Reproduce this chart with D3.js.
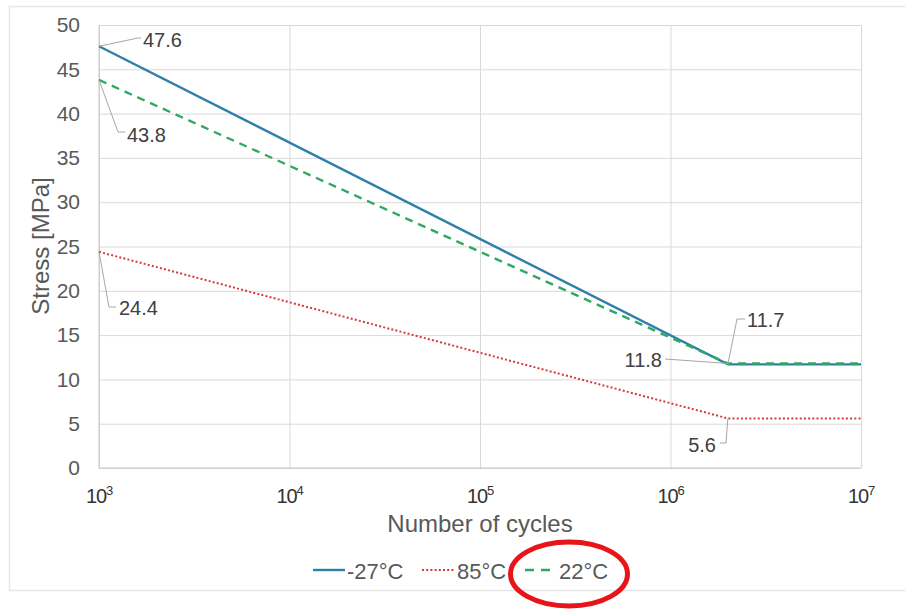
<!DOCTYPE html>
<html>
<head>
<meta charset="utf-8">
<script src="https://cdn.jsdelivr.net/npm/d3@7"></script>
<style>
  html, body { margin: 0; padding: 0; background: #fff; }
  svg { display: block; font-family: "Liberation Sans", Arial, sans-serif; }
</style>
</head>
<body>
<svg id="chart" width="905" height="611"></svg>
<script>
// S-N curves: stress amplitude vs. number of cycles, per test temperature
const cycles = [1e3, 2e6, 1e7];
const stressCold = [47.6, 11.7, 11.7];   // -27°C
const stressHot = [24.4, 5.6, 5.6];      // 85°C
const stressRoom = [43.8, 11.8, 11.8];   // 22°C
const seriesNames = ["-27°C", "85°C", "22°C"];
const yTicks = [0, 5, 10, 15, 20, 25, 30, 35, 40, 45, 50];
const xTickExponents = [3, 4, 5, 6, 7];

const series = [
  { name: seriesNames[0], values: stressCold, color: "#2f7fa9", dash: null, legendDash: null, width: 2.4 },
  { name: seriesNames[1], values: stressHot, color: "#d63a3a", dash: "2,2.2", legendDash: "2,2.2", width: 2 },
  { name: seriesNames[2], values: stressRoom, color: "#2ea862", dash: "8,6", legendDash: "9,7", width: 2.4 }
];

const svg = d3.select("#chart");
const plot = { left: 99, right: 861, top: 25, bottom: 468 };

const x = d3.scaleLog().domain([1e3, 1e7]).range([plot.left, plot.right]);
const y = d3.scaleLinear().domain([0, 50]).range([plot.bottom, plot.top]);

// outer frame
svg.append("rect")
  .attr("x", 9.5).attr("y", 6.5).attr("width", 905).attr("height", 584)
  .attr("fill", "none").attr("stroke", "#e6e6e6").attr("stroke-width", 1.5);

// horizontal gridlines + y tick labels
const yAxis = d3.axisLeft(y).tickValues(yTicks).tickSize(-(plot.right - plot.left)).tickPadding(19);
const gy = svg.append("g").attr("transform", `translate(${plot.left},0)`).call(yAxis);
gy.select(".domain").remove();
gy.selectAll(".tick line").attr("stroke", "#d9d9d9").attr("stroke-width", 1);
gy.selectAll(".tick text").attr("fill", "#595959").attr("font-size", 21)
  .attr("font-family", "Liberation Sans, Arial, sans-serif");

// vertical gridlines at each decade
const xAxis = d3.axisBottom(x).tickValues(xTickExponents.map(e => Math.pow(10, e)))
  .tickSize(-(plot.bottom - plot.top)).tickFormat("");
const gx = svg.append("g").attr("transform", `translate(0,${plot.bottom})`).call(xAxis);
gx.select(".domain").remove();
gx.selectAll(".tick line").attr("stroke", "#d9d9d9").attr("stroke-width", 1);

// axis lines
svg.append("line").attr("x1", plot.left).attr("x2", plot.left)
  .attr("y1", plot.top).attr("y2", plot.bottom).attr("stroke", "#c8c8c8");
svg.append("line").attr("x1", plot.left).attr("x2", plot.right)
  .attr("y1", plot.bottom).attr("y2", plot.bottom).attr("stroke", "#c8c8c8");

// x tick labels as powers of ten
xTickExponents.forEach(e => {
  const t = svg.append("text")
    .attr("x", x(Math.pow(10, e))).attr("y", 503)
    .attr("text-anchor", "middle").attr("fill", "#333").attr("font-size", 20)
    .attr("letter-spacing", -1.2);
  t.append("tspan").text("10");
  t.append("tspan").attr("dy", -8).attr("font-size", 13).text(e);
});

// axis titles
svg.append("text").attr("x", 480).attr("y", 532).attr("text-anchor", "middle")
  .attr("fill", "#595959").attr("font-size", 24).text("Number of cycles");
svg.append("text").attr("transform", "translate(49,246) rotate(-90)")
  .attr("text-anchor", "middle").attr("fill", "#595959").attr("font-size", 24).text("Stress [MPa]");

// curves (hot first, then cold, then room-temperature dashed on top)
const line = d3.line().x((d, i) => x(cycles[i])).y(d => y(d));
[series[1], series[0], series[2]].forEach(s => {
  svg.append("path").datum(s.values)
    .attr("d", line)
    .attr("fill", "none")
    .attr("stroke", s.color)
    .attr("stroke-width", s.width)
    .attr("stroke-dasharray", s.dash);
});

// data labels with leader lines
function dataLabel(px, py, pts, tx, ty, text, anchor) {
  svg.append("polyline")
    .attr("points", [[px, py]].concat(pts).map(p => p.join(",")).join(" "))
    .attr("fill", "none").attr("stroke", "#a6a6a6").attr("stroke-width", 1);
  svg.append("text").attr("x", tx).attr("y", ty).attr("text-anchor", anchor || "start")
    .attr("dominant-baseline", "central").attr("fill", "#404040").attr("font-size", 20).text(text);
}
const x0 = x(cycles[0]), xk = x(cycles[1]);
dataLabel(x0, y(stressCold[0]), [[138, 38], [141, 38]], 143, 40, stressCold[0]);
dataLabel(x0, y(stressRoom[0]), [[118, 132], [125, 132]], 127, 135, stressRoom[0]);
dataLabel(x0, y(stressHot[0]), [[109, 307], [116, 307]], 119, 308, stressHot[0]);
dataLabel(xk, y(stressCold[1]), [[737, 319], [745, 319]], 747, 320, stressCold[1]);
dataLabel(xk, y(stressRoom[1]), [[665, 359]], 662, 360, stressRoom[1], "end");
dataLabel(xk, y(stressHot[1]), [[726, 443], [720, 443]], 716, 445, stressHot[1], "end");

// legend
const legendY = 570;
const legendItems = [
  { s: series[0], x1: 313, x2: 345, tx: 347 },
  { s: series[1], x1: 422, x2: 455, tx: 457 },
  { s: series[2], x1: 525, x2: 553, tx: 559 }
];
legendItems.forEach(it => {
  svg.append("line").attr("x1", it.x1).attr("x2", it.x2).attr("y1", legendY).attr("y2", legendY)
    .attr("stroke", it.s.color).attr("stroke-width", it.s.width)
    .attr("stroke-dasharray", it.s.legendDash);
  svg.append("text").attr("x", it.tx).attr("y", legendY + 1).attr("dominant-baseline", "central")
    .attr("fill", "#595959").attr("font-size", 22).text(it.s.name);
});

// highlight ring around the 22°C legend entry
svg.append("ellipse").attr("cx", 569).attr("cy", 574).attr("rx", 58.5).attr("ry", 32)
  .attr("fill", "none").attr("stroke", "#e8141a").attr("stroke-width", 5);
</script>
</body>
</html>
